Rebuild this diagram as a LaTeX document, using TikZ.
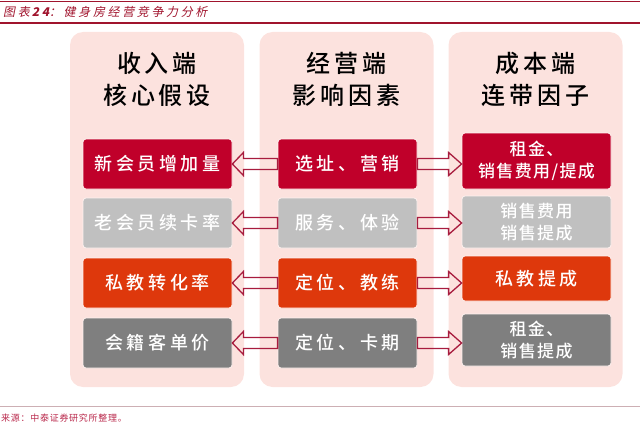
\documentclass[tikz,border=0pt]{standalone}
\usepackage{fontspec}
\setmainfont{Noto Sans CJK SC}
\newfontfamily\cjkhead[LetterSpace=16]{Noto Sans CJK SC Medium}
\newfontfamily\cjkbox[LetterSpace=20]{Noto Sans CJK SC Medium}
\newfontfamily\cjkboxs[LetterSpace=8]{Noto Sans CJK SC Medium}
\newfontfamily\cjkit[FakeSlant=0.2,LetterSpace=22]{Noto Sans CJK SC}
\newfontfamily\cjksrc[LetterSpace=8]{Noto Sans CJK SC}
\usetikzlibrary{calc}
\definecolor{crimson}{RGB}{192,0,42}
\definecolor{lgray}{RGB}{192,192,192}
\definecolor{ored}{RGB}{222,56,12}
\definecolor{dgray}{RGB}{127,127,127}
\definecolor{panelpink}{RGB}{252,226,222}
\definecolor{arrowred}{RGB}{168,28,62}
\definecolor{titlered}{RGB}{160,20,45}
\definecolor{srcred}{RGB}{185,40,75}
\definecolor{rulegray}{RGB}{205,175,180}
\tikzset{
  panel/.style={fill=panelpink, draw=none, rounded corners=13pt, minimum width=174pt, minimum height=355pt, inner sep=0pt},
  head/.style={align=center, text=black, font=\cjkhead\fontsize{24}{32}\selectfont},
  box/.style={rounded corners=3pt, draw=white!55!panelpink, line width=0.8pt, minimum height=50pt, inner sep=0pt, text=white, align=center, font=\cjkbox\fontsize{18}{22}\selectfont},
  boxs/.style={box, font=\cjkboxs\fontsize{17}{22}\selectfont},
  wide/.style={minimum width=149pt},
  mid/.style={minimum width=139pt},
  barrow/.style={draw=arrowred, line width=1.3pt, line join=miter},
}
\newcommand\blockL[2]{\draw[barrow] let \p1=(#1.west), \p2=(#2.east) in
  (\x1,\y1+5.5pt) -- (\x2+11pt,\y1+5.5pt) -- (\x2+11pt,\y1+11.5pt) -- (\x2,\y1) --
  (\x2+11pt,\y1-11.5pt) -- (\x2+11pt,\y1-5.5pt) -- (\x1,\y1-5.5pt) -- cycle;}
\newcommand\blockR[2]{\draw[barrow] let \p1=(#1.east), \p2=(#2.west) in
  (\x1,\y1+5.5pt) -- (\x2-13pt,\y1+5.5pt) -- (\x2-13pt,\y1+11.5pt) -- (\x2,\y1) --
  (\x2-13pt,\y1-11.5pt) -- (\x2-13pt,\y1-5.5pt) -- (\x1,\y1-5.5pt) -- cycle;}
\begin{document}
\begin{tikzpicture}[x=1pt,y=-1pt]
\useasboundingbox (0,0) rectangle (640,428);
% header and footer rules
\draw[titlered, line width=0.8pt] (0,1) -- (640,1);
\draw[titlered, line width=1.2pt] (0,23) -- (640,23);
\draw[rulegray, line width=0.8pt] (0,406) -- (640,406);
\node[anchor=west, text=titlered, inner sep=0pt, font=\cjkit\fontsize{12}{14}\selectfont] (title) at (3,11.5) {图表\,\textbf{24}：健身房经营竞争力分析};
\node[anchor=west, text=srcred, inner sep=0pt, font=\cjksrc\fontsize{9}{11}\selectfont] (src) at (1,418) {来源：中泰证券研究所整理。};
% panels
\node[panel] (p1) at (157,209.5) {};
\node[panel] (p2) at (346.5,209.5) {};
\node[panel] (p3) at (535.5,209.5) {};
\node[head] (h1) at (157,79) {收入端\\核心假设};
\node[head] (h2) at (346.5,79) {经营端\\影响因素};
\node[head] (h3) at (535.5,79) {成本端\\连带因子};
% column 1
\node[box, wide, fill=crimson] (a1) at (157.5,164) {新会员增加量};
\node[box, wide, fill=lgray] (a2) at (157.5,223) {老会员续卡率};
\node[box, wide, fill=ored] (a3) at (157.5,283) {私教转化率};
\node[box, wide, fill=dgray] (a4) at (157.5,343) {会籍客单价};
% column 2
\node[box, mid, fill=crimson] (b1) at (347.5,164) {选址、营销};
\node[box, mid, fill=lgray] (b2) at (347.5,223) {服务、体验};
\node[box, mid, fill=ored] (b3) at (347.5,283) {定位、教练};
\node[box, mid, fill=dgray] (b4) at (347.5,343) {定位、卡期};
% column 3
\node[boxs, wide, fill=crimson, minimum height=56pt] (c1) at (536.5,161) {租金、\\销售费用/提成};
\node[boxs, wide, fill=lgray, minimum height=52pt] (c2) at (536.5,222) {销售费用\\销售提成};
\node[box, wide, fill=ored, minimum height=45pt] (c3) at (536.5,278.5) {私教提成};
\node[boxs, wide, fill=dgray, minimum height=52pt] (c4) at (536.5,340) {租金、\\销售提成};
% arrows
\blockL{b1}{a1}
\blockL{b2}{a2}
\blockL{b3}{a3}
\blockL{b4}{a4}
\blockR{b1}{c1}
\blockR{b2}{c2}
\blockR{b3}{c3}
\blockR{b4}{c4}
\end{tikzpicture}
\end{document}
